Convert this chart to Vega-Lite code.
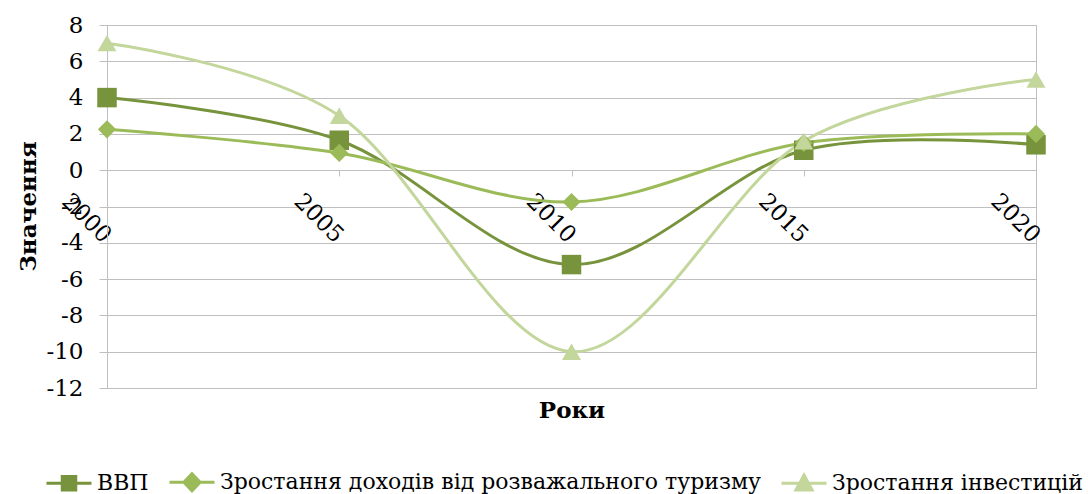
{
  "$schema": "https://vega.github.io/schema/vega-lite/v6.json",
  "width": 929,
  "height": 363,
  "autosize": "none",
  "padding": {"left": 107, "top": 25, "right": 52, "bottom": 106},
  "background": "white",
  "config": {
    "view": {"stroke": "#BFBFBF", "strokeWidth": 1},
    "font": "DejaVu Serif"
  },
  "data": {
    "values": [
      {"year": "2000", "series": "ВВП", "value": 4.0},
      {"year": "2005", "series": "ВВП", "value": 1.65},
      {"year": "2010", "series": "ВВП", "value": -5.2},
      {"year": "2015", "series": "ВВП", "value": 1.1},
      {"year": "2020", "series": "ВВП", "value": 1.4},
      {"year": "2000", "series": "Зростання доходів від розважального туризму", "value": 2.25},
      {"year": "2005", "series": "Зростання доходів від розважального туризму", "value": 0.95},
      {"year": "2010", "series": "Зростання доходів від розважального туризму", "value": -1.75},
      {"year": "2015", "series": "Зростання доходів від розважального туризму", "value": 1.5},
      {"year": "2020", "series": "Зростання доходів від розважального туризму", "value": 2.0},
      {"year": "2000", "series": "Зростання інвестицій", "value": 7.0},
      {"year": "2005", "series": "Зростання інвестицій", "value": 3.0},
      {"year": "2010", "series": "Зростання інвестицій", "value": -10.0},
      {"year": "2015", "series": "Зростання інвестицій", "value": 1.6},
      {"year": "2020", "series": "Зростання інвестицій", "value": 5.0}
    ]
  },
  "encoding": {
    "x": {
      "field": "year",
      "type": "ordinal",
      "sort": null,
      "scale": {"type": "point", "padding": 0},
      "axis": {
        "title": "Роки",
        "titleFont": "DejaVu Serif",
        "titleFontSize": 23,
        "titleFontWeight": "bold",
        "titleColor": "#000000",
        "titleY": 240,
        "titleBaseline": "middle",
        "offset": -218,
        "labelAngle": 45,
        "labelAlign": "center",
        "labelBaseline": "middle",
        "labelOffset": -21,
        "labelPadding": 42,
        "labelFont": "DejaVu Serif",
        "labelFontSize": 23,
        "labelColor": "#000000",
        "labelOverlap": false,
        "tickSize": 6,
        "tickColor": "#BFBFBF",
        "domainColor": "#BFBFBF",
        "grid": false
      }
    },
    "y": {
      "field": "value",
      "type": "quantitative",
      "scale": {"domain": [-12, 8], "nice": false},
      "axis": {
        "title": "Значення",
        "titleFont": "DejaVu Serif",
        "titleFontSize": 23,
        "titleFontWeight": "bold",
        "titleColor": "#000000",
        "titleX": -79,
        "titleY": 181,
        "titleAngle": 270,
        "titleAlign": "center",
        "titleBaseline": "middle",
        "values": [-12, -10, -8, -6, -4, -2, 0, 2, 4, 6, 8],
        "labelExpr": "replace(datum.label, '−', '-')",
        "labelFont": "DejaVu Serif",
        "labelFontSize": 23,
        "labelColor": "#000000",
        "labelPadding": 16,
        "tickSize": 8,
        "tickColor": "#BFBFBF",
        "domainColor": "#BFBFBF",
        "gridColor": "#BFBFBF"
      }
    },
    "color": {
      "field": "series",
      "type": "nominal",
      "sort": null,
      "scale": {
        "domain": ["ВВП", "Зростання доходів від розважального туризму", "Зростання інвестицій"],
        "range": ["#77933C", "#9BBB59", "#C3D69B"]
      },
      "legend": {
        "orient": "none",
        "legendX": -62,
        "legendY": 433,
        "direction": "horizontal",
        "title": null,
        "labelFont": "DejaVu Serif",
        "labelFontSize": 22,
        "labelColor": "#000000",
        "labelLimit": 0,
        "labelOffset": 4,
        "columnPadding": 14,
        "symbolSize": 2025,
        "symbolStrokeWidth": 3,
        "encode": {
          "symbols": {
            "update": {
              "shape": {"signal": "datum.value === 'ВВП' ? 'M-1,0H1M-0.3,-0.3H0.3V0.3H-0.3Z' : datum.value === 'Зростання інвестицій' ? 'M-1,0H1M0,-0.36L0.36,0.3H-0.36Z' : 'M-1,0H1M0,-0.38L0.36,0L0,0.38L-0.36,0Z'"},
              "fill": {"signal": "scale('color', datum.value)"},
              "stroke": {"signal": "scale('color', datum.value)"},
              "strokeWidth": {"value": 3},
              "opacity": {"value": 1},
              "size": {"value": 2025}
            }
          }
        }
      }
    }
  },
  "layer": [
    {
      "mark": {"type": "line", "interpolate": "cardinal", "tension": 0, "strokeWidth": 3}
    },
    {
      "transform": [{"filter": "datum.series === 'ВВП'"}],
      "mark": {"type": "point", "filled": true, "opacity": 1, "size": 380, "shape": "square"}
    },
    {
      "transform": [{"filter": "datum.series === 'Зростання доходів від розважального туризму'"}],
      "mark": {"type": "point", "filled": true, "opacity": 1, "size": 330, "shape": "diamond"}
    },
    {
      "transform": [{"filter": "datum.series === 'Зростання інвестицій'"}],
      "mark": {"type": "point", "filled": true, "opacity": 1, "size": 360, "shape": "triangle-up"}
    }
  ]
}
